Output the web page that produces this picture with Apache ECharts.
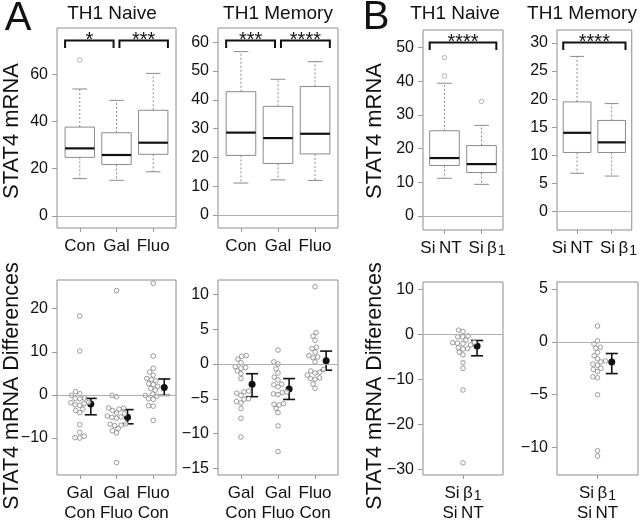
<!DOCTYPE html>
<html>
<head>
<meta charset="utf-8">
<title>STAT4 mRNA</title>
<script src="https://cdn.jsdelivr.net/npm/echarts@6.0.0/dist/echarts.min.js"></script>
<style>
  html, body { margin: 0; padding: 0; background: #fff; }
  #chart { width: 640px; height: 523px; }
</style>
</head>
<body>
<div id="chart"></div>
<script>
var FONT = '"Liberation Sans", Arial, Helvetica, sans-serif';

// ---- data ----
var groupsA = ['Con', 'Gal', 'Fluo'];
var groupsB = ['{n|Si\u2009NT}', '{n|Si\u2009β}{s|1}'];
var diffLabelsA = ['Gal\nCon', 'Gal\nFluo', 'Fluo\nCon'];
var diffLabelsB = ['{n|Si\u2009β}{s|1}\n{n|Si\u2009NT}'];

// box stats: [low whisker, Q1, median, Q3, high whisker]
var naiveBoxA = [[15.8, 24.8, 28.6, 37.6, 53.7], [15.1, 21.8, 25.8, 35.2, 48.9], [18.7, 26.1, 31.0, 44.7, 60.3]];
var naiveOutA = [[1, 66.0]];
var memBoxA = [[11.1, 20.7, 28.6, 42.8, 56.7], [12.2, 17.9, 26.7, 37.7, 47.1], [12.0, 21.2, 28.2, 44.6, 53.2]];
var memOutA = [];
var naiveBoxB = [[11.2, 15.0, 17.2, 25.3, 39.4], [9.4, 12.9, 15.4, 20.9, 26.9]];
var naiveOutB = [[1, 41.6], [1, 47.0], [2, 34.0]];
var memBoxB = [[6.8, 10.5, 14.0, 19.5, 27.6], [6.3, 10.5, 12.3, 16.2, 19.2]];
var memOutB = [];

// significance: [group a, group b, stars]
var sigNaiveA = [[1, 2, '*'], [2, 3, '***']];
var sigMemA = [[1, 2, '***'], [2, 3, '****']];
var sigNaiveB = [[1, 2, '****']];
var sigMemB = [[1, 2, '****']];

// paired differences, one array per group
var naiveDiffA = [
  [18.3, 10.2, 0.8, 0.3, -0.1, -0.7, -0.8, -0.9, -1.7, -1.8, -2.0, -2.3, -2.4, -3.3, -3.6, -4.1, -6.9, -8.7, -9.6, -10.0, -9.9],
  [24.2, -0.4, -0.1, -3.0, -3.1, -3.3, -3.6, -4.2, -4.4, -4.9, -5.1, -5.2, -5.4, -6.7, -6.8, -7.0, -7.1, -7.8, -8.3, -8.8, -15.7],
  [25.9, 9.0, 6.2, 5.3, 4.6, 3.8, 3.6, 3.3, 2.6, 2.4, 2.0, 1.5, 1.1, 0.2, -0.1, -0.3, -0.9, -1.0, -2.5, -2.6, -5.9]
];
var memDiffA = [
  [1.2, 1.1, 0.7, 0.2, -0.4, -0.5, -0.6, -1.0, -1.4, -2.1, -3.9, -4.0, -4.2, -4.5, -5.0, -5.1, -5.4, -5.6, -6.4, -7.8, -10.5],
  [2.0, 0.3, 0.0, -0.7, -1.3, -1.9, -2.3, -2.9, -3.0, -3.3, -4.0, -4.1, -4.3, -4.4, -5.7, -5.8, -5.9, -6.4, -7.0, -8.9, -12.6],
  [11.1, 4.5, 4.0, 3.4, 2.4, 2.2, 1.7, 1.2, 1.0, 0.9, 0.3, -0.8, -1.0, -1.2, -1.3, -1.6, -2.0, -2.1, -2.2, -2.9, -3.5]
];
var naiveDiffB = [
  [0.9, 0.6, -0.4, -0.6, -0.6, -1.3, -1.8, -1.9, -2.0, -2.1, -2.4, -3.0, -3.2, -3.3, -4.0, -4.6, -6.3, -7.6, -12.4, -28.6]
];
var memDiffB = [
  [1.5, 0.1, -0.2, -0.5, -0.6, -1.0, -1.3, -1.6, -1.8, -1.9, -2.1, -2.2, -2.5, -2.6, -2.8, -3.3, -3.4, -5.0, -10.3, -10.8]
];
// mean with interval: [mean, lower, upper]
var naiveSumA = [[-2.1, -4.6, -0.8], [-5.15, -6.7, -3.4], [1.7, -0.1, 3.7]];
var memSumA = [[-2.9, -4.7, -1.4], [-3.6, -5.1, -2.1], [0.45, -0.9, 1.85]];
var naiveSumB = [[-2.6, -4.8, -1.4]];
var memSumB = [[-1.9, -3.0, -1.1]];

// tick labels
var ticksNaiveA = [0, 20, 40, 60];
var ticksMemA = [0, 10, 20, 30, 40, 50, 60];
var ticksNaiveB = [0, 10, 20, 30, 40, 50];
var ticksMemB = [0, 5, 10, 15, 20, 25, 30];
var ticksDiffNaiveA = [-10, 0, 10, 20];
var ticksDiffMemA = [-15, -10, -5, 0, 5, 10];
var ticksDiffNaiveB = [-30, -20, -10, 0, 10];
var ticksDiffMemB = [-10, -5, 0, 5];

// ---- panels: layout only ----
// joined: the two narrow-spaced group labels are set as one line centred between the boxes
var panels = [
  {rect: [57, 28, 119, 200], x: [0.38, 3.62], y: [-5.07, 79.5], ticks: ticksNaiveA, cats: groupsA, box: naiveBoxA, out: naiveOutA, sig: sigNaiveA},
  {rect: [218, 28, 120, 200], x: [0.38, 3.62], y: [-4.5, 64.9], ticks: ticksMemA, cats: groupsA, box: memBoxA, out: memOutA, sig: sigMemA},
  {rect: [423, 30, 80, 200], x: [0.42, 2.58], y: [-4.15, 55.2], ticks: ticksNaiveB, cats: groupsB, box: naiveBoxB, out: naiveOutB, sig: sigNaiveB, joined: true},
  {rect: [557, 30, 80, 200], x: [0.42, 2.58], y: [-3.3, 32.3], ticks: ticksMemB, cats: groupsB, box: memBoxB, out: memOutB, sig: sigMemB, joined: true},
  {rect: [57, 280, 119, 199], x: [0.38, 3.62], y: [-18.57, 26.66], ticks: ticksDiffNaiveA, cats: diffLabelsA, diff: naiveDiffA, sum: naiveSumA, off: 0.3},
  {rect: [218, 280, 120, 199], x: [0.38, 3.62], y: [-15.96, 12.07], ticks: ticksDiffMemA, cats: diffLabelsA, diff: memDiffA, sum: memSumA, off: 0.3},
  {rect: [423, 282, 80, 198], x: [0.46, 1.54], y: [-31.3, 11.6], ticks: ticksDiffNaiveB, cats: diffLabelsB, diff: naiveDiffB, sum: naiveSumB, off: 0.19},
  {rect: [557, 282, 81, 199], x: [0.46, 1.54], y: [-12.6, 5.67], ticks: ticksDiffMemB, cats: diffLabelsB, diff: memDiffB, sum: memSumB, off: 0.19}
];

function fmtNum(v) {
  return String(v).replace('-', '\u2212');
}

// simple beeswarm: place each dot as close to centre as it can go without overlap
function swarmOffsets(vals, pxX, pxY, d) {
  var order = vals.map(function (v, i) { return i; }).sort(function (a, b) { return vals[a] - vals[b]; });
  var placed = [];
  var out = [];
  order.forEach(function (i) {
    var y = vals[i] * pxY;
    var near = placed.filter(function (p) { return Math.abs(p.y - y) < d; });
    var cand = [0];
    near.forEach(function (p) {
      var s = Math.sqrt(d * d - (p.y - y) * (p.y - y));
      cand.push(p.x + s, p.x - s);
    });
    cand.sort(function (a, b) { return (Math.abs(a) - Math.abs(b)) || (a - b); });
    var x = cand.find(function (c) {
      return near.every(function (p) { return (c - p.x) * (c - p.x) + (p.y - y) * (p.y - y) >= d * d - 1e-6; });
    });
    placed.push({x: x, y: y});
    out[i] = x / pxX;
  });
  return out;
}

function renderBox(params, api) {
  var x = api.value(0);
  var w = api.size([0.8, 0])[0];
  var lo = api.coord([x, api.value(1)]);
  var q1 = api.coord([x, api.value(2)]);
  var md = api.coord([x, api.value(3)]);
  var q3 = api.coord([x, api.value(4)]);
  var hi = api.coord([x, api.value(5)]);
  var cx = lo[0];
  var grey = '#8a8a8a';
  return {
    type: 'group',
    children: [
      {type: 'line', shape: {x1: cx, y1: q3[1], x2: cx, y2: hi[1]}, style: {stroke: grey, lineWidth: 1, lineDash: [2, 2]}},
      {type: 'line', shape: {x1: cx, y1: q1[1], x2: cx, y2: lo[1]}, style: {stroke: grey, lineWidth: 1, lineDash: [2, 2]}},
      {type: 'line', shape: {x1: cx - w / 4, y1: hi[1], x2: cx + w / 4, y2: hi[1]}, style: {stroke: grey, lineWidth: 1}},
      {type: 'line', shape: {x1: cx - w / 4, y1: lo[1], x2: cx + w / 4, y2: lo[1]}, style: {stroke: grey, lineWidth: 1}},
      {type: 'rect', shape: {x: cx - w / 2, y: q3[1], width: w, height: q1[1] - q3[1]}, style: {fill: '#fff', stroke: grey, lineWidth: 1}},
      {type: 'line', shape: {x1: cx - w / 2, y1: md[1], x2: cx + w / 2, y2: md[1]}, style: {stroke: '#111', lineWidth: 2.2}}
    ]
  };
}

function makeSigRenderer(sig, n) {
  return function (params, api) {
    var s = sig[params.dataIndex];
    var a = s[0], b = s[1];
    var xa = a === 1 ? a - 0.4 : a + 0.08;
    var xb = b === n ? b + 0.4 : b - 0.08;
    var p1 = api.coord([xa, 0])[0];
    var p2 = api.coord([xb, 0])[0];
    var y0 = params.coordSys.y + 12.5;
    return {
      type: 'group',
      children: [
        {type: 'polyline', shape: {points: [[p1, y0 + 7.5], [p1, y0], [p2, y0], [p2, y0 + 7.5]]}, style: {stroke: '#111', lineWidth: 2, fill: null}},
        {type: 'text', style: {text: s[2], x: (p1 + p2) / 2, y: y0 - 0.5, align: 'center', verticalAlign: 'middle', fontSize: 20, fontFamily: FONT, fill: '#111'}}
      ]
    };
  };
}

function renderSummary(params, api) {
  var x = api.value(0);
  var m = api.coord([x, api.value(1)]);
  var lo = api.coord([x, api.value(2)]);
  var hi = api.coord([x, api.value(3)]);
  var cx = m[0];
  return {
    type: 'group',
    children: [
      {type: 'line', shape: {x1: cx, y1: lo[1], x2: cx, y2: hi[1]}, style: {stroke: '#111', lineWidth: 1.6}},
      {type: 'line', shape: {x1: cx - 6, y1: lo[1], x2: cx + 6, y2: lo[1]}, style: {stroke: '#111', lineWidth: 1.6}},
      {type: 'line', shape: {x1: cx - 6, y1: hi[1], x2: cx + 6, y2: hi[1]}, style: {stroke: '#111', lineWidth: 1.6}},
      {type: 'circle', shape: {cx: cx, cy: m[1], r: 3.5}, style: {fill: '#111'}}
    ]
  };
}

var zeroLine = {
  silent: true,
  symbol: 'none',
  label: {show: false},
  lineStyle: {color: '#b0b0b0', width: 1, type: 'solid'},
  data: [{yAxis: 0}]
};

var richLabels = {
  n: {fontSize: 17, fontFamily: FONT, color: '#111', lineHeight: 20},
  g: {width: 7},
  s: {fontSize: 14, fontFamily: FONT, color: '#111', padding: [7, 0, 0, 1], lineHeight: 20}
};

var grids = [], xAxes = [], yAxes = [], series = [];

panels.forEach(function (p, i) {
  var cats = p.cats;
  var pos = cats.map(function (c, k) { return k + 1; });
  var labelPos = p.joined ? [(1 + cats.length) / 2] : pos;
  grids.push({
    left: p.rect[0], top: p.rect[1], width: p.rect[2], height: p.rect[3],
    show: true, borderColor: '#8c8c8c', borderWidth: 1, backgroundColor: 'transparent'
  });
  xAxes.push({
    gridIndex: i, type: 'value', min: p.x[0], max: p.x[1],
    axisLine: {show: false, onZero: false},
    splitLine: {show: false},
    axisTick: {show: true, customValues: pos, length: 4, lineStyle: {color: '#999'}},
    axisLabel: {
      customValues: labelPos,
      hideOverlap: false,
      showMinLabel: true,
      showMaxLabel: true,
      formatter: function (v) {
        return p.joined ? cats.join('{g|}') : cats[Math.round(v) - 1];
      },
      margin: 8, color: '#111', fontSize: 17, lineHeight: 20, fontFamily: FONT,
      rich: richLabels
    }
  });
  yAxes.push({
    gridIndex: i, type: 'value', min: p.y[0], max: p.y[1],
    axisLine: {show: false, onZero: false},
    splitLine: {show: false},
    axisTick: {show: true, customValues: p.ticks, length: 5, lineStyle: {color: '#999'}},
    axisLabel: {customValues: p.ticks, showMinLabel: true, showMaxLabel: true, formatter: fmtNum, margin: 9, color: '#111', fontSize: 16, fontFamily: FONT}
  });

  if (p.box) {
    series.push({
      type: 'custom', xAxisIndex: i, yAxisIndex: i, renderItem: renderBox,
      data: p.box.map(function (b, k) { return [k + 1].concat(b); }),
      encode: {x: 0, y: [1, 2, 3, 4, 5]},
      markLine: zeroLine, z: 2
    });
    series.push({
      type: 'scatter', xAxisIndex: i, yAxisIndex: i, symbol: 'circle', symbolSize: 4.5,
      data: p.out, itemStyle: {color: '#fff', borderColor: '#8a8a8a', borderWidth: 0.8}, z: 3
    });
    series.push({
      type: 'custom', xAxisIndex: i, yAxisIndex: i, renderItem: makeSigRenderer(p.sig, cats.length),
      data: p.sig.map(function (s) { return [s[0], s[1]]; }),
      encode: {x: [0, 1]}, z: 3
    });
  } else {
    var pxX = p.rect[2] / (p.x[1] - p.x[0]);
    var pxY = p.rect[3] / (p.y[1] - p.y[0]);
    var dots = [];
    p.diff.forEach(function (vals, k) {
      var offs = swarmOffsets(vals, pxX, pxY, 4.7);
      vals.forEach(function (v, j) { dots.push([k + 1 + offs[j], v]); });
    });
    series.push({
      type: 'custom', xAxisIndex: i, yAxisIndex: i, renderItem: renderSummary,
      data: p.sum.map(function (s, k) { return [k + 1 + p.off].concat(s); }),
      encode: {x: 0, y: [1, 2, 3]},
      markLine: zeroLine, z: 2
    });
    series.push({
      type: 'scatter', xAxisIndex: i, yAxisIndex: i, symbol: 'circle', symbolSize: 4.6,
      data: dots, itemStyle: {color: '#fff', borderColor: '#777', borderWidth: 0.9}, z: 3
    });
  }
});

function label(text, x, y, size, rot) {
  return {
    type: 'text', x: x, y: y, rotation: rot || 0,
    style: {text: text, fontSize: size, fontFamily: FONT, fill: '#111', align: 'center', verticalAlign: 'middle'}
  };
}

var myChart = echarts.init(document.getElementById('chart'), null, {renderer: 'canvas'});
var option = {
  animation: false,
  backgroundColor: '#fff',
  grid: grids,
  xAxis: xAxes,
  yAxis: yAxes,
  series: series,
  graphic: [
    label('A', 18, 19, 40),
    label('B', 376, 18, 40),
    label('TH1 Naive', 112, 14, 19),
    label('TH1 Memory', 278, 14, 19),
    label('TH1 Naive', 455, 14, 19),
    label('TH1 Memory', 582, 14, 19),
    label('STAT4 mRNA', 12, 131, 22, Math.PI / 2),
    label('STAT4 mRNA', 375, 131, 22, Math.PI / 2),
    label('STAT4 mRNA Differences', 12, 386, 21.5, Math.PI / 2),
    label('STAT4 mRNA Differences', 375, 386, 21.5, Math.PI / 2)
  ]
};
myChart.setOption(option);
</script>
</body>
</html>
